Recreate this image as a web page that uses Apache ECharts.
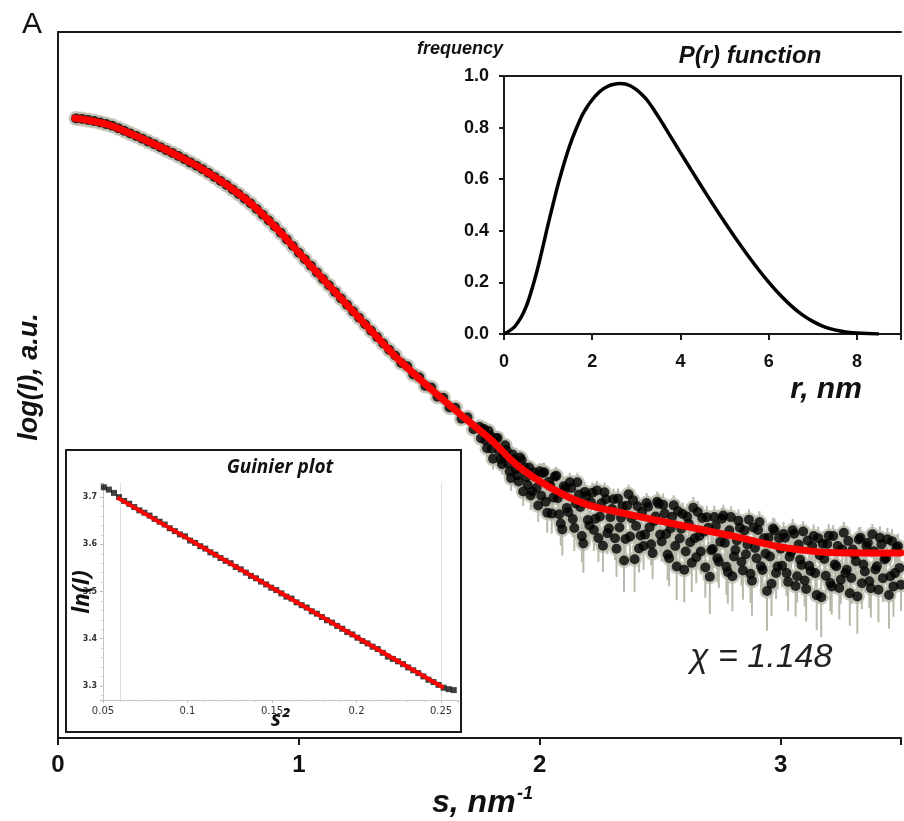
<!DOCTYPE html>
<html>
<head>
<meta charset="utf-8">
<script src="https://cdn.jsdelivr.net/npm/echarts@6/dist/echarts.min.js"></script>
<style>
html, body { margin: 0; padding: 0; background: #fff; }
#main { width: 904px; height: 821px; }
</style>
</head>
<body>
<div id="main"></div>
<script>
// scattering curve, low s part (points sit on the fit)
const sLow = [0.075,0.1,0.125,0.15,0.175,0.2,0.225,0.25,0.275,0.3,0.325,0.35,0.375,0.4,0.425,0.45,0.475,0.5,
  0.525,0.55,0.575,0.6,0.625,0.65,0.675,0.7,0.725,0.75,0.775,0.8,0.825,0.85,0.875,0.9,0.925,0.95,0.975,1.0,
  1.025,1.05,1.075,1.1,1.125,1.15,1.175,1.2,1.225,1.25,1.275,1.3,1.325,1.35,1.375,1.4,1.425,1.45,1.475,1.5,
  1.525,1.55,1.575,1.6,1.625,1.65,1.675,1.7,1.725,1.75];
const logILow = [1.686,1.682,1.676,1.670,1.662,1.652,1.642,1.628,1.613,1.596,1.581,1.565,1.548,1.532,1.515,1.497,1.480,1.462,
  1.443,1.423,1.404,1.384,1.361,1.338,1.314,1.290,1.263,1.236,1.208,1.180,1.147,1.113,1.079,1.043,1.005,0.966,0.927,0.887,
  0.848,0.810,0.770,0.731,0.693,0.654,0.615,0.577,0.538,0.500,0.461,0.423,0.385,0.347,0.309,0.276,0.231,0.212,0.163,0.146,
  0.095,0.085,0.030,0.024,-0.034,-0.036,-0.101,-0.092,-0.163,-0.148];

// high s part: noisy points with error bars (relative error of I)
const sHigh = [1.7625,1.775,1.7875,1.8,1.8125,1.825,1.8375,1.85,1.8625,1.875,1.8875,1.9,1.9125,1.925,1.9375,1.95,1.9625,1.975,1.9875,2.0,
  2.0125,2.025,2.0375,2.05,2.0625,2.075,2.0875,2.1,2.1125,2.125,2.1375,2.15,2.1625,2.175,2.1875,2.2,2.2125,2.225,2.2375,2.25,
  2.2625,2.275,2.2875,2.3,2.3125,2.325,2.3375,2.35,2.3625,2.375,2.3875,2.4,2.4125,2.425,2.4375,2.45,2.4625,2.475,2.4875,2.5,
  2.5125,2.525,2.5375,2.55,2.5625,2.575,2.5875,2.6,2.6125,2.625,2.6375,2.65,2.6625,2.675,2.6875,2.7,2.7125,2.725,2.7375,2.75,
  2.7625,2.775,2.7875,2.8,2.8125,2.825,2.8375,2.85,2.8625,2.875,2.8875,2.9,2.9125,2.925,2.9375,2.95,2.9625,2.975,2.9875,3.0,
  3.0125,3.025,3.0375,3.05,3.0625,3.075,3.0875,3.1,3.1125,3.125,3.1375,3.15,3.1625,3.175,3.1875,3.2,3.2125,3.225,3.2375,3.25,
  3.2625,3.275,3.2875,3.3,3.3125,3.325,3.3375,3.35,3.3625,3.375,3.3875,3.4,3.4125,3.425,3.4375,3.45,3.4625,3.475,3.4875,3.5];
const logIHigh = [-0.165,-0.229,-0.174,-0.279,-0.237,-0.215,-0.342,-0.320,-0.288,-0.415,-0.313,-0.400,-0.474,-0.348,-0.391,-0.495,-0.557,-0.419,-0.511,-0.413,
  -0.424,-0.594,-0.475,-0.665,-0.445,-0.574,-0.724,-0.503,-0.631,-0.479,-0.697,-0.605,-0.552,-0.799,-0.536,-0.703,-0.598,-0.763,-0.527,-0.682,
  -0.856,-0.580,-0.754,-0.638,-0.812,-0.576,-0.690,-0.944,-0.618,-0.801,-0.585,-0.739,-0.873,-0.656,-0.790,-0.624,-0.848,-0.711,-0.595,-0.789,
  -0.613,-0.786,-0.930,-0.684,-0.858,-0.651,-0.755,-0.999,-0.683,-0.836,-0.630,-0.924,-0.798,-0.691,-0.985,-0.749,-0.883,-0.686,-0.930,-0.833,
  -0.677,-0.981,-0.764,-1.038,-0.882,-0.707,-0.951,-0.765,-0.849,-1.023,-0.747,-0.931,-0.715,-1.000,-0.904,-0.808,-1.082,-0.766,-0.980,-0.874,
  -0.787,-1.019,-0.922,-0.764,-1.096,-0.849,-0.971,-1.063,-0.825,-1.007,-0.798,-1.150,-0.912,-0.844,-1.035,-0.797,-1.098,-0.968,-0.858,-1.059,
  -0.779,-0.999,-1.139,-0.879,-0.949,-0.819,-1.079,-1.009,-0.839,-1.109,-0.889,-0.979,-0.809,-1.049,-0.929,-1.149,-0.829,-1.019,-0.859,-1.089];
const relErrHigh = [0.08,0.1,0.07,0.12,0.09,0.1,0.14,0.11,0.09,0.15,0.1,0.13,0.16,0.1,0.12,0.15,0.18,0.11,0.14,0.12,
  0.15,0.2,0.14,0.24,0.13,0.18,0.26,0.15,0.2,0.14,0.22,0.18,0.16,0.3,0.15,0.2,0.17,0.25,0.14,0.19,
  0.3,0.16,0.22,0.18,0.26,0.15,0.2,0.35,0.16,0.24,0.15,0.2,0.28,0.17,0.22,0.16,0.25,0.19,0.15,0.22,
  0.17,0.22,0.32,0.18,0.26,0.17,0.22,0.36,0.18,0.24,0.16,0.3,0.22,0.18,0.34,0.2,0.26,0.17,0.28,0.22,
  0.16,0.32,0.2,0.38,0.25,0.17,0.28,0.19,0.22,0.33,0.18,0.26,0.16,0.3,0.24,0.2,0.36,0.18,0.27,0.22,
  0.18,0.27,0.22,0.17,0.34,0.2,0.25,0.3,0.18,0.26,0.17,0.38,0.21,0.18,0.27,0.17,0.32,0.23,0.19,0.28,
  0.16,0.24,0.36,0.19,0.22,0.18,0.3,0.25,0.18,0.33,0.2,0.24,0.17,0.28,0.21,0.37,0.18,0.26,0.19,0.3];

// the in-between frames of the same measurement
const sHigh2 = [1.75625,1.76875,1.78125,1.79375,1.80625,1.81875,1.83125,1.84375,1.85625,1.86875,1.88125,1.89375,1.90625,1.91875,1.93125,1.94375,1.95625,1.96875,1.98125,1.99375,
  2.00625,2.01875,2.03125,2.04375,2.05625,2.06875,2.08125,2.09375,2.10625,2.11875,2.13125,2.14375,2.15625,2.16875,2.18125,2.19375,2.20625,2.21875,2.23125,2.24375,
  2.25625,2.26875,2.28125,2.29375,2.30625,2.31875,2.33125,2.34375,2.35625,2.36875,2.38125,2.39375,2.40625,2.41875,2.43125,2.44375,2.45625,2.46875,2.48125,2.49375,
  2.50625,2.51875,2.53125,2.54375,2.55625,2.56875,2.58125,2.59375,2.60625,2.61875,2.63125,2.64375,2.65625,2.66875,2.68125,2.69375,2.70625,2.71875,2.73125,2.74375,
  2.75625,2.76875,2.78125,2.79375,2.80625,2.81875,2.83125,2.84375,2.85625,2.86875,2.88125,2.89375,2.90625,2.91875,2.93125,2.94375,2.95625,2.96875,2.98125,2.99375,
  3.00625,3.01875,3.03125,3.04375,3.05625,3.06875,3.08125,3.09375,3.10625,3.11875,3.13125,3.14375,3.15625,3.16875,3.18125,3.19375,3.20625,3.21875,3.23125,3.24375,
  3.25625,3.26875,3.28125,3.29375,3.30625,3.31875,3.33125,3.34375,3.35625,3.36875,3.38125,3.39375,3.40625,3.41875,3.43125,3.44375,3.45625,3.46875,3.48125,3.49375];
const logIHigh2 = [-0.217,-0.162,-0.276,-0.201,-0.338,-0.216,-0.293,-0.371,-0.259,-0.367,-0.454,-0.341,-0.437,-0.331,-0.534,-0.448,-0.391,-0.533,-0.445,-0.617,
  -0.559,-0.419,-0.660,-0.500,-0.570,-0.440,-0.669,-0.759,-0.517,-0.655,-0.513,-0.751,-0.479,-0.626,-0.843,-0.560,-0.736,-0.541,-0.695,-0.810,
  -0.604,-0.538,-0.782,-0.686,-0.580,-0.874,-0.748,-0.622,-0.816,-0.550,-0.693,-0.937,-0.621,-0.795,-0.858,-0.602,-0.746,-0.900,-0.683,-0.607,
  -0.831,-0.665,-0.908,-0.752,-0.616,-0.980,-0.813,-0.667,-0.891,-0.725,-0.958,-0.812,-0.656,-0.890,-0.773,-0.687,-1.041,-0.875,-0.738,-0.952,
  -0.695,-0.839,-1.013,-0.686,-0.920,-0.825,-0.749,-1.003,-0.907,-0.701,-1.065,-0.869,-0.763,-0.978,-0.812,-1.126,-0.920,-0.754,-1.018,-0.812,
  -0.976,-0.808,-1.071,-0.893,-0.785,-1.038,-0.940,-0.772,-1.114,-0.976,-0.858,-1.019,-0.811,-1.163,-0.935,-0.846,-1.078,-0.798,-0.978,-1.108,
  -0.878,-1.018,-0.828,-1.048,-0.908,-1.158,-0.808,-0.968,-0.858,-1.068,-0.788,-0.998,-1.118,-0.848,-0.938,-0.818,-1.038,-1.098,-0.868,-0.988];
const relErrHigh2 = [0.1,0.08,0.12,0.09,0.14,0.1,0.11,0.13,0.09,0.12,0.16,0.1,0.13,0.1,0.18,0.12,0.1,0.15,0.11,0.2,
  0.18,0.14,0.24,0.16,0.18,0.13,0.24,0.3,0.15,0.2,0.15,0.27,0.14,0.19,0.33,0.16,0.23,0.15,0.2,0.28,
  0.17,0.14,0.25,0.2,0.16,0.32,0.23,0.17,0.26,0.14,0.2,0.36,0.16,0.24,0.28,0.15,0.2,0.3,0.18,0.15,
  0.24,0.16,0.3,0.2,0.15,0.37,0.25,0.17,0.28,0.19,0.33,0.22,0.16,0.27,0.2,0.17,0.4,0.25,0.18,0.3,
  0.16,0.22,0.35,0.16,0.26,0.2,0.18,0.33,0.25,0.15,0.38,0.21,0.17,0.28,0.19,0.42,0.24,0.16,0.3,0.2,
  0.25,0.17,0.33,0.2,0.16,0.3,0.22,0.15,0.36,0.26,0.19,0.28,0.17,0.42,0.21,0.18,0.32,0.16,0.24,0.35,
  0.19,0.27,0.17,0.3,0.2,0.4,0.16,0.23,0.18,0.31,0.15,0.25,0.36,0.18,0.21,0.17,0.29,0.34,0.19,0.24];

// model fit (red)
const fitS = [0.07,0.2,0.3,0.4,0.5,0.6,0.7,0.8,0.9,1.0,1.1,1.2,1.3,1.4,1.5,1.6,1.7,1.8,1.9,2.0,2.1,2.2,2.3,2.4,2.6,2.8,3.0,3.1,3.2,3.35,3.5];
const fitLogI = [1.687,1.652,1.596,1.532,1.462,1.384,1.290,1.180,1.043,0.887,0.731,0.577,0.423,0.271,0.138,0.011,-0.110,-0.229,-0.370,-0.473,
  -0.553,-0.613,-0.648,-0.679,-0.739,-0.798,-0.864,-0.883,-0.897,-0.899,-0.899];

// Guinier inset
const guinierS2 = [0.0505,0.0535,0.0565,0.0595,0.0625,0.0655,0.0685,0.0715,0.0745,0.0775,0.0805,0.0835,0.0865,0.0895,0.0925,0.0955,0.0985,
  0.1015,0.1045,0.1075,0.1105,0.1135,0.1165,0.1195,0.1225,0.1255,0.1285,0.1315,0.1345,0.1375,0.1405,0.1435,0.1465,0.1495,0.1525,0.1555,
  0.1585,0.1615,0.1645,0.1675,0.1705,0.1735,0.1765,0.1795,0.1825,0.1855,0.1885,0.1915,0.1945,0.1975,0.2005,0.2035,0.2065,0.2095,0.2125,
  0.2155,0.2185,0.2215,0.2245,0.2275,0.2305,0.2335,0.2365,0.2395,0.2425,0.2455,0.2485,0.2515,0.2545,0.2575,0.2605];
const guinierLnI = [3.721,3.716,3.709,3.700,3.692,3.686,3.679,3.672,3.667,3.661,3.654,3.648,3.642,3.634,3.628,3.621,3.617,
  3.608,3.603,3.596,3.591,3.583,3.578,3.571,3.565,3.560,3.552,3.547,3.540,3.533,3.528,3.521,3.515,3.508,3.503,3.496,
  3.489,3.485,3.477,3.471,3.466,3.458,3.453,3.446,3.439,3.434,3.427,3.421,3.414,3.409,3.402,3.395,3.390,3.383,3.378,
  3.370,3.362,3.357,3.352,3.346,3.339,3.333,3.327,3.320,3.313,3.308,3.302,3.296,3.293,3.291,3.283];
const guinierFitS2 = [0.0585, 0.2515];
const guinierFitLnI = [3.699, 3.296];

// P(r) inset
const prR = [0,0.25,0.5,0.75,1,1.25,1.5,1.75,1.875,2,2.125,2.25,2.375,2.5,2.625,2.75,2.875,3,3.125,3.25,3.375,3.5,3.625,3.75,
  4,4.25,4.5,4.75,5,5.25,5.5,5.75,6,6.25,6.5,6.75,7,7.25,7.5,7.75,8,8.25,8.5];
const prP = [0,0.03,0.105,0.245,0.425,0.595,0.735,0.84,0.878,0.908,0.932,0.95,0.962,0.968,0.971,0.969,0.961,0.947,0.928,0.905,0.875,0.842,0.808,0.773,
  0.703,0.634,0.566,0.499,0.434,0.371,0.311,0.254,0.201,0.153,0.111,0.076,0.049,0.029,0.016,0.008,0.004,0.0015,0];

// tick labels
const mainXTicks = [0, 1, 2, 3];
const prXTicks = [0, 2, 4, 6, 8];
const prYTicks = [0, 0.2, 0.4, 0.6, 0.8, 1.0];
const guinierXTicks = [0.05, 0.1, 0.15, 0.2, 0.25];
const guinierYTicks = [3.3, 3.4, 3.5, 3.6, 3.7];

const AX = '#1a1a1a';
const HALO = '#b9b9ab';
const SANS = '"Liberation Sans", Arial, sans-serif';

function inList(list, v) {
  return list.some(t => Math.abs(t - v) < 1e-6);
}

const chart = echarts.init(document.getElementById('main'));

const highS = sHigh.concat(sHigh2);
const highI = logIHigh.concat(logIHigh2);
const highErr = relErrHigh.concat(relErrHigh2);

const pointsAll = sLow.map((s, i) => [s, logILow[i]])
  .concat(highS.map((s, i) => [s, highI[i]]));
// error bars in log space: log(I - sigma) .. log(I + sigma)
const errBars = highS.map((s, i) => [s,
  highI[i] + Math.log10(1 - highErr[i]),
  highI[i] + Math.log10(1 + highErr[i])]);

const option = {
  animation: false,
  backgroundColor: '#fff',
  grid: [
    { left: 58, top: 32, right: 0, bottom: 83 },
    { left: 504, top: 76, width: 399, height: 258, show: true, borderColor: AX, borderWidth: 2 },
    { left: 103, top: 483, width: 355, height: 217 }
  ],
  xAxis: [
    {
      gridIndex: 0, type: 'value', min: 0, max: 3.5, interval: 1,
      axisLine: { onZero: false, lineStyle: { color: AX, width: 2 } },
      axisTick: { length: 7, lineStyle: { color: AX, width: 2 } },
      axisLabel: {
        margin: 15, fontSize: 24, fontWeight: 'bold', color: '#111', fontFamily: SANS,
        formatter: v => inList(mainXTicks, v) ? String(v) : ''
      },
      splitLine: { show: false }
    },
    {
      gridIndex: 0, type: 'value', position: 'top', min: 0, max: 3.5,
      axisLine: { onZero: false, lineStyle: { color: AX, width: 2 } },
      axisTick: { show: false }, axisLabel: { show: false }, splitLine: { show: false }
    },
    {
      gridIndex: 1, type: 'value', min: 0, max: 9, interval: 2,
      axisLine: { onZero: false, lineStyle: { color: AX, width: 2 } },
      axisTick: { length: 6, lineStyle: { color: AX, width: 2 } },
      axisLabel: {
        margin: 19, fontSize: 18, fontWeight: 'bold', color: '#111', fontFamily: SANS,
        formatter: v => inList(prXTicks, v) ? String(v) : ''
      },
      splitLine: { show: false }
    },
    {
      gridIndex: 2, type: 'value', min: 0.05, max: 0.26, interval: 0.05,
      axisLine: { onZero: false, lineStyle: { color: '#c4c4c4', width: 1 } },
      axisTick: { length: 3, lineStyle: { color: '#bbb' } },
      minorTick: { show: true, splitNumber: 5, length: 2, lineStyle: { color: '#ccc' } },
      axisLabel: {
        margin: 6, fontSize: 10, color: '#333', fontFamily: '"DejaVu Sans", sans-serif',
        formatter: v => inList(guinierXTicks, v) ? String(+v.toFixed(2)) : ''
      },
      splitLine: { show: false }
    }
  ],
  yAxis: [
    {
      gridIndex: 0, type: 'value', min: -2, max: 2.2,
      axisLine: { show: true, onZero: false, lineStyle: { color: AX, width: 2 } },
      axisTick: { show: false }, axisLabel: { show: false }, splitLine: { show: false }
    },
    {
      gridIndex: 1, type: 'value', min: 0, max: 1, interval: 0.2,
      axisLine: { show: true, onZero: false, lineStyle: { color: AX, width: 2 } },
      axisTick: { show: true, length: 5, lineStyle: { color: AX, width: 2 } },
      axisLabel: {
        margin: 15, fontSize: 18, fontWeight: 'bold', color: '#111', fontFamily: SANS,
        formatter: v => inList(prYTicks, v) ? v.toFixed(1) : ''
      },
      splitLine: { show: false }
    },
    {
      gridIndex: 2, type: 'value', min: 3.27, max: 3.73,
      axisLine: { show: true, onZero: false, lineStyle: { color: '#c4c4c4', width: 1 } },
      axisTick: { show: true, length: 3, lineStyle: { color: '#bbb' } },
      minorTick: { show: true, splitNumber: 5, length: 2, lineStyle: { color: '#ccc' } },
      axisLabel: {
        margin: 6, fontSize: 8, fontWeight: 'bold', color: '#333', fontFamily: '"DejaVu Sans", sans-serif',
        formatter: v => inList(guinierYTicks, v) ? v.toFixed(1) : ''
      },
      splitLine: { show: false }
    }
  ],
  series: [
    {
      // error bars
      type: 'custom', xAxisIndex: 0, yAxisIndex: 0, silent: true, z: 1,
      data: errBars,
      encode: { x: 0, y: [1, 2] },
      renderItem: function (params, api) {
        const p1 = api.coord([api.value(0), api.value(1)]);
        const p2 = api.coord([api.value(0), api.value(2)]);
        return {
          type: 'line',
          shape: { x1: p1[0], y1: p1[1], x2: p2[0], y2: p2[1] },
          style: { stroke: HALO, lineWidth: 2 }
        };
      }
    },
    {
      type: 'scatter', xAxisIndex: 0, yAxisIndex: 0, silent: true, z: 2,
      data: pointsAll, symbol: 'circle', symbolSize: 15,
      itemStyle: { color: HALO }
    },
    {
      type: 'scatter', xAxisIndex: 0, yAxisIndex: 0, silent: true, z: 3,
      data: pointsAll, symbol: 'circle', symbolSize: 10,
      itemStyle: { color: '#000' }
    },
    {
      type: 'line', xAxisIndex: 0, yAxisIndex: 0, silent: true, z: 4,
      data: fitS.map((s, i) => [s, fitLogI[i]]),
      smooth: 0.4, showSymbol: false,
      lineStyle: { color: '#ff0000', width: 7, cap: 'round' }
    },
    {
      type: 'scatter', xAxisIndex: 3, yAxisIndex: 2, silent: true, z: 5,
      data: guinierS2.map((s, i) => [s, guinierLnI[i]]),
      symbol: 'rect', symbolSize: 6,
      itemStyle: { color: '#111' }
    },
    {
      type: 'line', xAxisIndex: 3, yAxisIndex: 2, silent: true, z: 6,
      data: guinierFitS2.map((s, i) => [s, guinierFitLnI[i]]),
      showSymbol: false,
      lineStyle: { color: '#ff0000', width: 4 },
      markLine: {
        silent: true, symbol: 'none', label: { show: false },
        lineStyle: { color: '#dcdcdc', width: 1, type: 'solid' },
        data: guinierFitS2.map(s => ({ xAxis: s }))
      }
    },
    {
      type: 'line', xAxisIndex: 2, yAxisIndex: 1, silent: true, z: 5,
      data: prR.map((r, i) => [r, prP[i]]),
      smooth: 0.3, showSymbol: false,
      lineStyle: { color: '#000', width: 3.5 }
    }
  ],
  graphic: [
    {
      type: 'rect', z: 0,
      shape: { x: 66, y: 450, width: 395, height: 282 },
      style: { fill: '#fff', stroke: AX, lineWidth: 2 }
    },
    {
      type: 'text', x: 32, y: 25, z: 100,
      style: { text: 'A', fill: '#111', font: '30px ' + SANS, textAlign: 'center', textVerticalAlign: 'middle', align: 'center', verticalAlign: 'middle' }
    },
    {
      type: 'text', x: 30, y: 377, rotation: Math.PI / 2, z: 100,
      style: { text: 'log(I), a.u.', fill: '#111', font: 'italic bold 27px ' + SANS, textAlign: 'center', textVerticalAlign: 'middle', align: 'center', verticalAlign: 'middle' }
    },
    {
      type: 'text', x: 432, y: 803, z: 100,
      style: { text: 's, nm', fill: '#111', font: 'italic bold 32px ' + SANS, textAlign: 'left', textVerticalAlign: 'middle', align: 'left', verticalAlign: 'middle' }
    },
    {
      type: 'text', x: 517, y: 794, z: 100,
      style: { text: '-1', fill: '#111', font: 'italic bold 18px ' + SANS, textAlign: 'left', textVerticalAlign: 'middle', align: 'left', verticalAlign: 'middle' }
    },
    {
      type: 'text', x: 503, y: 49, z: 100,
      style: { text: 'frequency', fill: '#111', font: 'italic bold 18px ' + SANS, textAlign: 'right', textVerticalAlign: 'middle', align: 'right', verticalAlign: 'middle' }
    },
    {
      type: 'text', x: 750, y: 56, z: 100,
      style: { text: 'P(r) function', fill: '#111', font: 'italic bold 24px ' + SANS, textAlign: 'center', textVerticalAlign: 'middle', align: 'center', verticalAlign: 'middle' }
    },
    {
      type: 'text', x: 826, y: 390, z: 100,
      style: { text: 'r, nm', fill: '#111', font: 'italic bold 30px ' + SANS, textAlign: 'center', textVerticalAlign: 'middle', align: 'center', verticalAlign: 'middle' }
    },
    {
      type: 'text', x: 690, y: 658, z: 100,
      style: { text: 'χ = 1.148', fill: '#222', font: 'italic 34px ' + SANS, textAlign: 'left', textVerticalAlign: 'middle', align: 'left', verticalAlign: 'middle' }
    },
    {
      type: 'text', x: 280, y: 468, z: 100,
      style: { text: 'Guinier plot', fill: '#111', font: 'italic bold 19px "Open Sans", sans-serif', textAlign: 'center', textVerticalAlign: 'middle', align: 'center', verticalAlign: 'middle' }
    },
    {
      type: 'text', x: 82, y: 592, rotation: Math.PI / 2, z: 100,
      style: { text: 'ln(I)', fill: '#111', font: 'italic bold 23px "Open Sans", sans-serif', textAlign: 'center', textVerticalAlign: 'middle', align: 'center', verticalAlign: 'middle' }
    },
    {
      type: 'text', x: 280, y: 720, z: 100,
      style: { text: 's²', fill: '#111', font: 'italic bold 21px "Open Sans", sans-serif', textAlign: 'center', textVerticalAlign: 'middle', align: 'center', verticalAlign: 'middle' }
    }
  ]
};

chart.setOption(option);
</script>
</body>
</html>
